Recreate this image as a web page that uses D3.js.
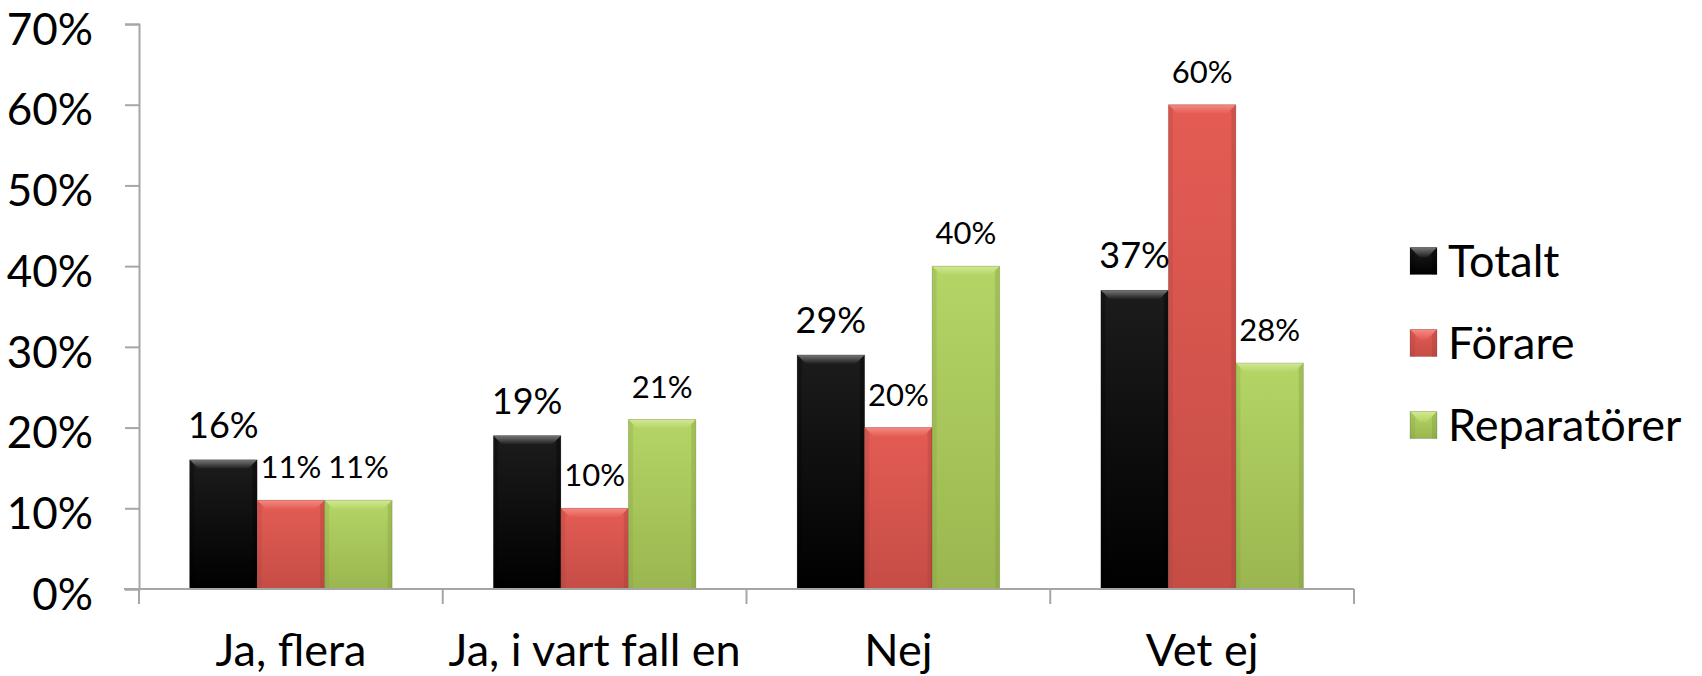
<!DOCTYPE html>
<html>
<head>
<meta charset="utf-8">
<script src="https://cdn.jsdelivr.net/npm/d3@7"></script>
<style>
  body { margin: 0; background: #fff; }
  svg { display: block; font-family: Lato, "Open Sans", sans-serif; }
</style>
</head>
<body>
<svg id="chart"></svg>
<script>
const categories = ["Ja, flera", "Ja, i vart fall en", "Nej", "Vet ej"];
const seriesNames = ["Totalt", "Förare", "Reparatörer"];
const totalt = [0.16, 0.19, 0.29, 0.37];
const forare = [0.11, 0.10, 0.20, 0.60];
const reparatorer = [0.11, 0.21, 0.40, 0.28];
const yTicks = [0, 0.1, 0.2, 0.3, 0.4, 0.5, 0.6, 0.7];

const seriesValues = [totalt, forare, reparatorer];

const svgWidth = 1702, svgHeight = 676;
const plotLeft = 139, plotRight = 1354, plotTop = 24, plotBottom = 589;

// colours per series: body top, body bottom, top bevel
const palette = [
  { top: "#1c1c1c", bottom: "#000000", bevel: "#777777", side: "#000000" },
  { top: "#e45c54", bottom: "#c54d46", bevel: "#f48a82", side: "#a8403a" },
  { top: "#b4d566", bottom: "#9bb64f", bevel: "#d2e894", side: "#7e9a3c" }
];

const svg = d3.select("#chart")
  .attr("width", svgWidth)
  .attr("height", svgHeight);

svg.append("rect").attr("width", svgWidth).attr("height", svgHeight).attr("fill", "#fff");

const defs = svg.append("defs");
palette.forEach((p, i) => {
  const g = defs.append("linearGradient")
    .attr("id", "grad" + i)
    .attr("x1", 0).attr("y1", 0).attr("x2", 0).attr("y2", 1);
  g.append("stop").attr("offset", "0%").attr("stop-color", p.top);
  g.append("stop").attr("offset", "100%").attr("stop-color", p.bottom);
  const b = defs.append("linearGradient")
    .attr("id", "bev" + i)
    .attr("x1", 0).attr("y1", 0).attr("x2", 0).attr("y2", 1);
  b.append("stop").attr("offset", "0%").attr("stop-color", p.bevel);
  b.append("stop").attr("offset", "100%").attr("stop-color", p.top);
});

const x0 = d3.scaleBand()
  .domain(categories)
  .range([plotLeft, plotRight])
  .paddingInner(0).paddingOuter(0);

const x1 = d3.scaleBand()
  .domain(seriesNames)
  .range([0, x0.bandwidth()])
  .paddingInner(0).paddingOuter(0.75);

const y = d3.scaleLinear()
  .domain([0, 0.7])
  .range([plotBottom, plotTop]);

// draw a bevelled box
const bevelBox = (g, x, yTop, w, h, i, b) => {
  const p = palette[i];
  g.append("rect")
    .attr("x", x).attr("y", yTop).attr("width", w).attr("height", h)
    .attr("fill", `url(#grad${i})`);
  b = Math.min(b, h / 2, w / 2);
  // top bevel
  g.append("polygon")
    .attr("points", [[x, yTop], [x + w, yTop], [x + w - b, yTop + b], [x + b, yTop + b]].join(" "))
    .attr("fill", `url(#bev${i})`);
  // sides
  g.append("polygon")
    .attr("points", [[x, yTop], [x + b * 0.5, yTop + b * 0.5], [x + b * 0.5, yTop + h], [x, yTop + h]].join(" "))
    .attr("fill", p.side).attr("opacity", 0.25);
  g.append("polygon")
    .attr("points", [[x + w, yTop], [x + w - b * 0.5, yTop + b * 0.5], [x + w - b * 0.5, yTop + h], [x + w, yTop + h]].join(" "))
    .attr("fill", p.side).attr("opacity", 0.35);
  g.append("rect")
    .attr("x", x).attr("y", yTop).attr("width", w).attr("height", h)
    .attr("fill", "none").attr("stroke", "#000").attr("stroke-opacity", 0.15).attr("stroke-width", 1);
};

// y axis
const yAxis = d3.axisLeft(y)
  .tickValues(yTicks)
  .tickSize(14)
  .tickPadding(32)
  .tickFormat(d3.format(".0%"));

const yg = svg.append("g")
  .attr("transform", `translate(${plotLeft},0)`)
  .call(yAxis);
yg.select(".domain").attr("stroke", "#a6a6a6").attr("stroke-width", 2);
yg.selectAll(".tick line").attr("stroke", "#a6a6a6").attr("stroke-width", 2);
yg.selectAll(".tick text")
  .attr("font-size", 44)
  .attr("font-family", "Lato, sans-serif")
  .attr("fill", "#000")
  .attr("dy", "0.46em");

// bars
const barsG = svg.append("g");
categories.forEach((cat, ci) => {
  seriesNames.forEach((s, si) => {
    const v = seriesValues[si][ci];
    const bx = x0(cat) + x1(s);
    const by = y(v);
    bevelBox(barsG, bx, by, x1.bandwidth(), y(0) - by, si, 9);
  });
});

// x axis
const xg = svg.append("g");
xg.append("line")
  .attr("x1", plotLeft - 15).attr("x2", plotRight)
  .attr("y1", y(0)).attr("y2", y(0))
  .attr("stroke", "#a6a6a6").attr("stroke-width", 2);
const boundaries = categories.map((c) => x0(c)).concat([x0(categories[categories.length - 1]) + x0.bandwidth()]);
xg.selectAll(".xtick")
  .data(boundaries)
  .enter()
  .append("line")
  .attr("x1", (d) => d).attr("x2", (d) => d)
  .attr("y1", y(0)).attr("y2", y(0) + 15)
  .attr("stroke", "#a6a6a6").attr("stroke-width", 2);
xg.selectAll(".xlabel")
  .data(categories)
  .enter()
  .append("text")
  .attr("x", (d) => x0(d) + x0.bandwidth() / 2)
  .attr("y", 666)
  .attr("text-anchor", "middle")
  .attr("font-size", 45)
  .attr("fill", "#000")
  .text((d) => d);

// data labels
const labelsG = svg.append("g");
categories.forEach((cat, ci) => {
  seriesNames.forEach((s, si) => {
    const v = seriesValues[si][ci];
    labelsG.append("text")
      .attr("x", x0(cat) + x1(s) + x1.bandwidth() / 2)
      .attr("y", y(v) - 22)
      .attr("text-anchor", "middle")
      .attr("font-size", si === 0 ? 36 : 31)
      .attr("fill", "#000")
      .text(d3.format(".0%")(v));
  });
});

// legend
const legend = svg.append("g");
const legendY = [261, 343, 425];
seriesNames.forEach((s, si) => {
  const cy = legendY[si];
  bevelBox(legend, 1410, cy - 13.5, 27, 27, si, 10);
  legend.append("text")
    .attr("x", 1448)
    .attr("y", cy)
    .attr("dy", "0.36em")
    .attr("font-size", 45)
    .attr("fill", "#000")
    .text(s);
});
</script>
</body>
</html>
